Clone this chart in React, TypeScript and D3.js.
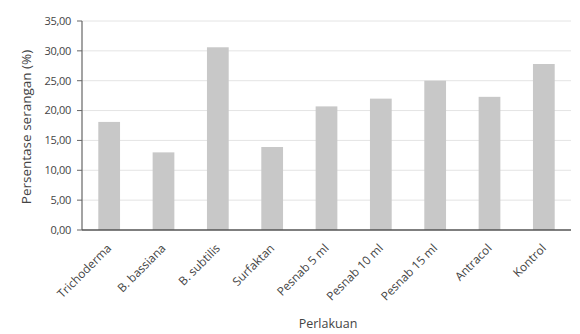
import React from "react";
import * as d3 from "d3";

const categories = ["Trichoderma", "B. bassiana", "B. subtilis", "Surfaktan", "Pesnab 5 ml", "Pesnab 10 ml", "Pesnab 15 ml", "Antracol", "Kontrol"];
const values = [18.1, 13.0, 30.6, 13.9, 20.7, 22.0, 25.0, 22.3, 27.8];
const yTicks = [0, 5, 10, 15, 20, 25, 30, 35];

export default function App() {
  const W = 580, H = 334;
  const left = 82, right = 571, top = 21, bottom = 230;
  const x = d3.scaleBand<string>().domain(categories).range([left, right]).paddingInner(0.6).paddingOuter(0.3);
  const y = d3.scaleLinear().domain([0, 35]).range([bottom, top]);
  const fmt = (v: number) => v.toFixed(2).replace(".", ",");
  const font = "'Open Sans', 'Liberation Sans', sans-serif";
  return (
    <svg width={W} height={H} style={{ position: "absolute", left: 0, top: 0, background: "#fff" }} fontFamily={font}>
      {yTicks.map((t) => (
        <g key={t}>
          {t > 0 && <line x1={left} x2={right} y1={y(t)} y2={y(t)} stroke="#e4e4e4" strokeWidth={1} />}
          <line x1={left - 5} x2={left} y1={y(t)} y2={y(t)} stroke="#666" strokeWidth={1} />
          <text x={71} y={y(t)} dy="0.35em" textAnchor="end" fontSize={11} letterSpacing={-0.3} fill="#444">{fmt(t)}</text>
        </g>
      ))}
      {categories.map((c, i) => (
        <rect key={c} x={x(c)} y={y(values[i])} width={x.bandwidth()} height={bottom - y(values[i])} fill="#c8c8c8" />
      ))}
      <line x1={left} x2={left} y1={top} y2={bottom} stroke="#666" strokeWidth={1.2} />
      <line x1={left} x2={right} y1={bottom} y2={bottom} stroke="#555" strokeWidth={1.6} />
      {categories.map((c) => {
        const cx = (x(c) as number) + x.bandwidth() / 2 + 3;
        const cy = 249;
        return (
          <text key={c} x={cx} y={cy} transform={`rotate(-45, ${cx}, ${cy})`} textAnchor="end" fontSize={11.8} fill="#444">{c}</text>
        );
      })}
      <text x={328} y={328} textAnchor="middle" fontSize={12.5} fill="#444">Perlakuan</text>
      <text transform={`translate(31, 127) rotate(-90)`} textAnchor="middle" fontSize={13.5} fill="#444">Persentase serangan (%)</text>
    </svg>
  );
}
